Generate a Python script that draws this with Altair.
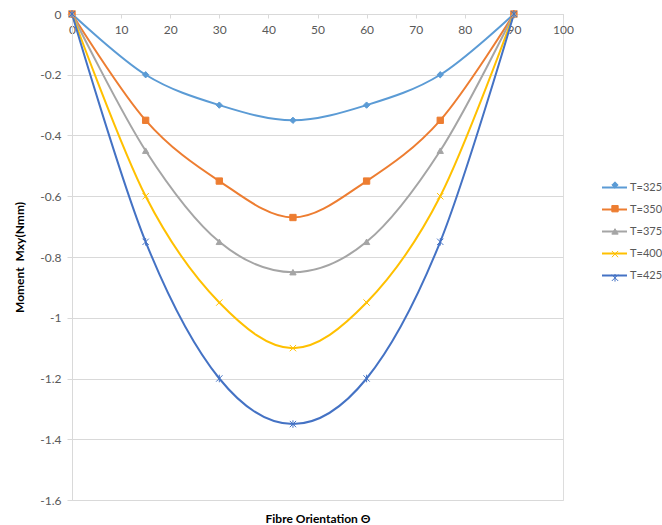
import altair as alt
import pandas as pd

# Fibre orientation angles (degrees) and moment Mxy (Nmm) for each temperature
angles = [0, 15, 30, 45, 60, 75, 90]
m_325 = [0, -0.2, -0.3, -0.35, -0.3, -0.2, 0]
m_350 = [0, -0.35, -0.55, -0.67, -0.55, -0.35, 0]
m_375 = [0, -0.45, -0.75, -0.85, -0.75, -0.45, 0]
m_400 = [0, -0.6, -0.95, -1.1, -0.95, -0.6, 0]
m_425 = [0, -0.75, -1.2, -1.35, -1.2, -0.75, 0]

series = ["T=325", "T=350", "T=375", "T=400", "T=425"]
values = [m_325, m_350, m_375, m_400, m_425]
colors = ["#5B9BD5", "#ED7D31", "#A5A5A5", "#FFC000", "#4472C4"]
shapes = [
    "diamond",
    "square",
    "triangle-up",
    "M-1,-1L1,1M-1,1L1,-1",
    "M-1,-1L1,1M-1,1L1,-1M0,-1.2L0,1.2",
]

x_ticks = list(range(0, 101, 10))
y_ticks = [0, -0.2, -0.4, -0.6, -0.8, -1, -1.2, -1.4, -1.6]

rows = []
for name, vals in zip(series, values):
    for a, v in zip(angles, vals):
        rows.append({"angle": a, "moment": v, "T": name})
df = pd.DataFrame(rows)

FONT = "Lato"
GRID = "#D9D9D9"
LABEL = "#595959"
W, H = 491, 486

x_enc = alt.X(
    "angle:Q",
    scale=alt.Scale(domain=[0, 100], nice=False),
    axis=alt.Axis(
        values=x_ticks,
        offset=-H,
        grid=False,
        domainColor=GRID,
        tickColor=GRID,
        tickSize=4,
        labelFont=FONT,
        labelFontSize=12,
        labelColor=LABEL,
        labelPadding=6,
        labelFlush=False,
        labelOverlap=False,
        title="Fibre Orientation Θ",
        titleFont=FONT,
        titleFontSize=12,
        titleFontWeight="bold",
        titleColor="#000000",
        titleY=504,
        titleBaseline="middle",
    ),
)
y_enc = alt.Y(
    "moment:Q",
    scale=alt.Scale(domain=[-1.6, 0], nice=False),
    axis=alt.Axis(
        values=y_ticks,
        grid=True,
        gridColor=GRID,
        domainColor=GRID,
        tickColor=GRID,
        tickSize=5,
        labelExpr="'' + datum.value",
        labelFont=FONT,
        labelFontSize=12,
        labelColor=LABEL,
        labelPadding=6,
        labelFlush=False,
        labelOverlap=False,
        title="Moment\u00a0 Mxy(Nmm)",
        titleFont=FONT,
        titleFontSize=12,
        titleFontWeight="bold",
        titleColor="#000000",
        titlePadding=13,
    ),
)

line_legend = alt.Legend(
    orient="none",
    legendX=529,
    legendY=160,
    title=None,
    padding=0,
    symbolType="stroke",
    symbolSize=625,
    symbolStrokeWidth=2,
    labelFont=FONT,
    labelFontSize=11,
    labelColor=LABEL,
    labelOffset=2,
    rowPadding=3,
)
marker_legend = alt.Legend(
    orient="none",
    legendX=539,
    legendY=167,
    title=None,
    padding=0,
    symbolSize=40,
    symbolStrokeWidth=1,
    labelExpr="''",
    labelFontSize=1,
    rowPadding=11.7,
)

color_scale = alt.Scale(domain=series, range=colors)

lines = alt.Chart(df).mark_line(interpolate="cardinal", strokeWidth=2).encode(
    x=x_enc,
    y=y_enc,
    color=alt.Color("T:N", scale=color_scale, legend=line_legend),
    order=alt.Order("angle:Q"),
)

markers = alt.Chart(df).mark_point(filled=True, size=40, strokeWidth=1, opacity=1).encode(
    x=x_enc,
    y=y_enc,
    color=alt.Color("T:N", scale=color_scale, legend=marker_legend),
    stroke=alt.Stroke("T:N", scale=color_scale, legend=marker_legend),
    shape=alt.Shape("T:N", scale=alt.Scale(domain=series, range=shapes), legend=marker_legend),
)

chart = (
    alt.layer(lines, markers)
    .resolve_scale(color="independent")
    .resolve_legend(color="independent", stroke="independent", shape="independent")
    .properties(
        width=W,
        height=H,
        autosize=alt.AutoSizeParams(type="none"),
        padding={"left": 72, "top": 14, "right": 99, "bottom": 25},
    )
    .configure_view(stroke=None)
    .configure(background="white")
)

chart.save("out.html", embed_options={"renderer": "svg", "actions": False})
